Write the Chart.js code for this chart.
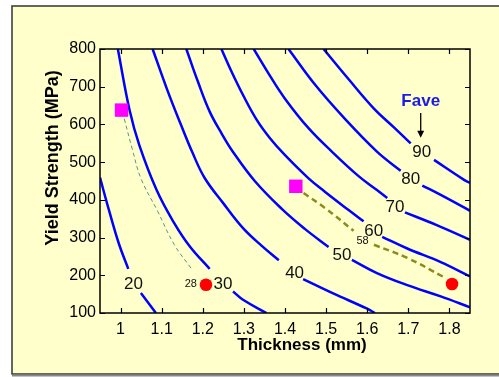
<!DOCTYPE html>
<html lang="en">
<head>
<meta charset="UTF-8">
<title>Fave contours</title>
<style>
    body {
        margin: 0;
        background: #fff;
    }
    canvas {
        display: block;
    }
</style>
</head>
<body>
<canvas id="faveChart" width="499" height="377"></canvas>
<script src="https://cdn.jsdelivr.net/npm/chart.js"></script>
<script>
    // axis ticks
    const xTicks = [1, 1.1, 1.2, 1.3, 1.4, 1.5, 1.6, 1.7, 1.8];
    const xTickLabels = ['1', '1.1', '1.2', '1.3', '1.4', '1.5', '1.6', '1.7', '1.8'];
    const yTicks = [100, 200, 300, 400, 500, 600, 700, 800];
    const yTickLabels = ['100', '200', '300', '400', '500', '600', '700', '800'];

    // Fave contours: [thickness mm, yield strength MPa], null = gap left for the label
    const fave20 = [[0.95, 459], [0.9725, 370], [0.9968, 281], [1.0188, 217], null, [1.0495, 153], [1.086, 100]];
    const fave30 = [[0.9934, 800], [1.0219, 638], [1.0456, 545], [1.0877, 426], [1.1291, 341], [1.1681, 277], [1.2168, 217], null, [1.2736, 157], [1.2979, 135], [1.3549, 100]];
    const fave40 = [[1.078, 800], [1.1145, 689], [1.1462, 601], [1.1754, 524], [1.2046, 458], [1.2492, 392], [1.2979, 325], [1.3435, 278], [1.3849, 240], null, [1.4441, 190], [1.5172, 152], [1.5985, 112], [1.6188, 100]];
    const fave50 = [[1.16, 800], [1.1883, 713], [1.2168, 634], [1.2453, 577], [1.2736, 527], [1.3264, 450], [1.3922, 376], [1.4482, 323], [1.506, 275], null, [1.5627, 241], [1.6236, 206], [1.6974, 174], [1.7788, 144], [1.8502, 115]];
    const fave60 = [[1.2453, 800], [1.2704, 739], [1.2979, 678], [1.3313, 612], [1.363, 564], [1.3995, 519], [1.4573, 457], [1.4977, 421], [1.5547, 373], [1.5912, 343], null, [1.6365, 302], [1.6974, 271], [1.7788, 235], [1.8502, 197]];
    const fave70 = [[1.324, 800], [1.3605, 734], [1.3995, 669], [1.4573, 590], [1.514, 528], [1.579, 463], [1.6236, 426], [1.6487, 405], null, [1.6918, 367], [1.7691, 333], [1.8502, 294]];
    const fave80 = [[1.4085, 800], [1.4733, 705], [1.5464, 614], [1.6236, 528], [1.6814, 477], null, [1.734, 438], [1.7788, 413], [1.8502, 371]];
    const fave90 = [[1.4938, 800], [1.5554, 719], [1.6163, 642], [1.665, 592], [1.7057, 550], null, [1.7625, 506], [1.8356, 453], [1.8502, 445]];

    // dashed paths between designs
    const path28 = [[1.009, 615], [1.0292, 532], [1.0495, 457], [1.0901, 370], [1.1308, 281], [1.1713, 219]];
    const path58 = [[1.4451, 418], [1.4977, 378], [1.5669, 318], null, [1.6163, 281], [1.6974, 246], [1.7868, 195]];

    // design points
    const squarePts = [[1.0024, 638], [1.4263, 436]];
    const dotPts = [[1.2078, 175], [1.8063, 177]];

    // contour labels [text, thickness, strength]
    const contourLabels = [['20', 1.0312, 176], ['30', 1.2492, 176], ['40', 1.4234, 204], ['50', 1.5384, 252],
        ['60', 1.6158, 317], ['70', 1.6675, 380], ['80', 1.706, 455], ['90', 1.7325, 526]];
    const smallLabels = [['28', 1.171, 178], ['58', 1.5888, 291]];

    const FONT = "'Liberation Sans', Arial, Helvetica, sans-serif";

    function toXY(arr) {
        return arr.map((p, i) => p ? { x: p[0], y: p[1] } : { x: arr[i - 1][0], y: null });
    }

    function contour(arr) {
        return {
            data: toXY(arr),
            showLine: true,
            borderColor: '#0000ff',
            borderWidth: 2.5,
            pointRadius: 0,
            tension: 0.4,
            spanGaps: false
        };
    }

    // yellow frame behind everything
    const framePlugin = {
        id: 'frame',
        beforeDraw(chart) {
            const ctx = chart.ctx;
            ctx.save();
            ctx.fillStyle = '#ffffff';
            ctx.fillRect(0, 0, chart.width, chart.height);
            ctx.fillStyle = '#ffffcc';
            ctx.fillRect(12, 6, 520, 368);
            ctx.strokeStyle = '#333';
            ctx.lineWidth = 1.5;
            ctx.strokeRect(12, 6, 520, 368);
            ctx.strokeStyle = '#888';
            ctx.lineWidth = 2;
            ctx.beginPath();
            ctx.moveTo(12, 375.5);
            ctx.lineTo(499, 375.5);
            ctx.stroke();
            ctx.restore();
        }
    };

    // plot box, inward ticks, contour labels, axis titles
    const decorPlugin = {
        id: 'decor',
        afterDraw(chart) {
            const ctx = chart.ctx;
            const a = chart.chartArea;
            const xs = chart.scales.x;
            const ys = chart.scales.y;
            ctx.save();

            ctx.strokeStyle = '#000';
            ctx.lineWidth = 1.5;
            ctx.strokeRect(a.left, a.top, a.right - a.left, a.bottom - a.top);

            ctx.lineWidth = 1.2;
            ctx.beginPath();
            xTicks.forEach(v => {
                const px = Math.round(xs.getPixelForValue(v)) + 0.5;
                ctx.moveTo(px, a.bottom);
                ctx.lineTo(px, a.bottom - 5);
                ctx.moveTo(px, a.top);
                ctx.lineTo(px, a.top + 5);
            });
            yTicks.forEach(v => {
                const py = Math.round(ys.getPixelForValue(v)) + 0.5;
                ctx.moveTo(a.left, py);
                ctx.lineTo(a.left + 5, py);
                ctx.moveTo(a.right, py);
                ctx.lineTo(a.right - 5, py);
            });
            ctx.stroke();

            ctx.textAlign = 'center';
            ctx.textBaseline = 'middle';
            ctx.fillStyle = '#111';
            ctx.font = '17px ' + FONT;
            contourLabels.forEach(l => {
                ctx.fillText(l[0], xs.getPixelForValue(l[1]), ys.getPixelForValue(l[2]));
            });
            ctx.font = '11px ' + FONT;
            smallLabels.forEach(l => {
                ctx.fillText(l[0], xs.getPixelForValue(l[1]), ys.getPixelForValue(l[2]));
            });

            // Fave note with arrow
            const fx = xs.getPixelForValue(1.7301);
            ctx.fillStyle = '#1a1ae8';
            ctx.font = 'bold 17px ' + FONT;
            ctx.fillText('Fave', fx, ys.getPixelForValue(662));
            const y1 = ys.getPixelForValue(630);
            const y2 = ys.getPixelForValue(565);
            ctx.strokeStyle = '#000';
            ctx.lineWidth = 1.3;
            ctx.beginPath();
            ctx.moveTo(fx, y1);
            ctx.lineTo(fx, y2 - 6);
            ctx.stroke();
            ctx.fillStyle = '#000';
            ctx.beginPath();
            ctx.moveTo(fx - 3.5, y2 - 7);
            ctx.lineTo(fx + 3.5, y2 - 7);
            ctx.lineTo(fx, y2);
            ctx.closePath();
            ctx.fill();

            // axis titles
            ctx.fillStyle = '#000';
            ctx.font = 'bold 17px ' + FONT;
            ctx.textBaseline = 'alphabetic';
            ctx.fillText('Thickness (mm)', 302, 349.5);
            ctx.translate(58, 158);
            ctx.rotate(-Math.PI / 2);
            ctx.font = 'bold 18px ' + FONT;
            ctx.fillText('Yield Strength (MPa)', 0, 0);
            ctx.restore();
        }
    };

    const ctxFave = document.getElementById('faveChart').getContext('2d');
    const faveChart = new Chart(ctxFave, {
        type: 'scatter',
        data: {
            datasets: [
                {
                    data: toXY(squarePts),
                    pointStyle: 'rect',
                    pointRadius: 9.5,
                    backgroundColor: '#ff00ff',
                    borderColor: '#ff00ff',
                    borderWidth: 0
                },
                {
                    data: toXY(dotPts),
                    pointStyle: 'circle',
                    pointRadius: 6.3,
                    backgroundColor: '#ff0000',
                    borderColor: '#ff0000',
                    borderWidth: 0
                },
                {
                    data: toXY(path28),
                    showLine: true,
                    borderColor: '#5f9090',
                    borderWidth: 1,
                    borderDash: [4, 3],
                    pointRadius: 0,
                    tension: 0.4
                },
                {
                    data: toXY(path58),
                    showLine: true,
                    borderColor: '#8c8c1e',
                    borderWidth: 2.5,
                    borderDash: [6, 4],
                    pointRadius: 0,
                    tension: 0.4,
                    spanGaps: false
                },
                contour(fave20),
                contour(fave30),
                contour(fave40),
                contour(fave50),
                contour(fave60),
                contour(fave70),
                contour(fave80),
                contour(fave90)
            ]
        },
        options: {
            responsive: false,
            animation: false,
            devicePixelRatio: 1,
            layout: { padding: { top: 49, right: 29, left: 0, bottom: 0 } },
            plugins: {
                legend: { display: false },
                tooltip: { enabled: false }
            },
            scales: {
                x: {
                    type: 'linear',
                    min: 0.95,
                    max: 1.85,
                    afterBuildTicks: s => { s.ticks = xTicks.map(v => ({ value: v })); },
                    afterFit: s => { s.height = 64; },
                    ticks: {
                        callback: (v, i) => xTickLabels[i],
                        color: '#000',
                        font: { family: FONT, size: 16 },
                        padding: 7,
                        maxRotation: 0,
                        autoSkip: false
                    },
                    grid: { display: false, drawTicks: false },
                    border: { display: false }
                },
                y: {
                    type: 'linear',
                    min: 100,
                    max: 800,
                    afterBuildTicks: s => { s.ticks = yTicks.map(v => ({ value: v })); },
                    afterFit: s => { s.width = 100; },
                    ticks: {
                        callback: (v, i) => yTickLabels[i],
                        color: '#000',
                        font: { family: FONT, size: 16 },
                        padding: 4,
                        autoSkip: false
                    },
                    grid: { display: false, drawTicks: false },
                    border: { display: false }
                }
            }
        },
        plugins: [framePlugin, decorPlugin]
    });
</script>
</body>
</html>
